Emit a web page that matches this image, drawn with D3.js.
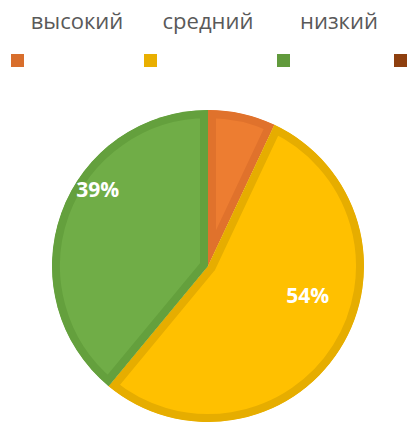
<!DOCTYPE html>
<html>
<head>
<meta charset="utf-8">
<script src="https://cdn.jsdelivr.net/npm/d3@7"></script>
<style>
  body { margin: 0; background: #fff; }
  svg { display: block; font-family: "Open Sans", sans-serif; }
</style>
</head>
<body>
<div id="chart"></div>
<script>
// slices, clockwise from 12 o'clock
const categories = ["высокий", "средний", "низкий", ""];
const values = [7, 54, 39, 0];
const labels = ["", "54%", "39%", ""];
const headerLabels = ["высокий", "средний", "низкий"];
const fills = ["#ED7D31", "#FFC000", "#70AD47", "#9E480E"];
const strokes = ["#E0722C", "#E6AD00", "#64A03D", "#8B3F0C"];
const legendColors = ["#D86E2C", "#E9AF00", "#619A3C", "#8E3F0E"];

const width = 407, height = 422;
const svg = d3.select("#chart").append("svg")
  .attr("width", width).attr("height", height);

// header row of category names
const headerX = d3.scalePoint().domain(headerLabels).range([77, 339]);
svg.append("g").selectAll("text")
  .data(headerLabels)
  .join("text")
  .attr("x", d => headerX(d))
  .attr("y", 29)
  .attr("text-anchor", "middle")
  .attr("font-size", 22)
  .attr("fill", "#595959")
  .text(d => d);

// legend squares (no text beside them)
const legendX = [11, 144, 277, 394];
svg.append("g").selectAll("rect")
  .data(legendColors)
  .join("rect")
  .attr("x", (d, i) => legendX[i])
  .attr("y", 54)
  .attr("width", 13)
  .attr("height", 13)
  .attr("fill", d => d);

// pie
const cx = 208, cy = 266, r = 156;
const pie = d3.pie().sort(null).value(d => d)(values);
const arc = d3.arc().innerRadius(0).outerRadius(r);

const g = svg.append("g").attr("transform", `translate(${cx},${cy})`);
const defs = svg.append("defs");
pie.forEach((d, i) => {
  defs.append("clipPath").attr("id", "clip" + i)
    .append("path").attr("d", arc(d));
});

g.selectAll("path.slice")
  .data(pie)
  .join("path")
  .attr("class", "slice")
  .attr("d", arc)
  .attr("fill", (d, i) => fills[i])
  .attr("stroke", (d, i) => strokes[i])
  .attr("stroke-width", 16)
  .attr("stroke-linejoin", "round")
  .attr("clip-path", (d, i) => `url(#clip${i})`);

// data labels: excel "best fit" placement, offset from slice mid-angle
const labelShift = [0, -0.28, 0.26, 0];   // radians
const labelRadius = [0, 104, 134, 0];
g.selectAll("text.lbl")
  .data(pie)
  .join("text")
  .attr("class", "lbl")
  .attr("transform", (d, i) => {
    const a = (d.startAngle + d.endAngle) / 2 + labelShift[i];
    return `translate(${Math.sin(a) * labelRadius[i]},${-Math.cos(a) * labelRadius[i]})`;
  })
  .attr("text-anchor", "middle")
  .attr("dy", "0.35em")
  .attr("font-size", 21)
  .attr("font-weight", "bold")
  .attr("fill", "#fff")
  .text((d, i) => labels[i]);
</script>
</body>
</html>
